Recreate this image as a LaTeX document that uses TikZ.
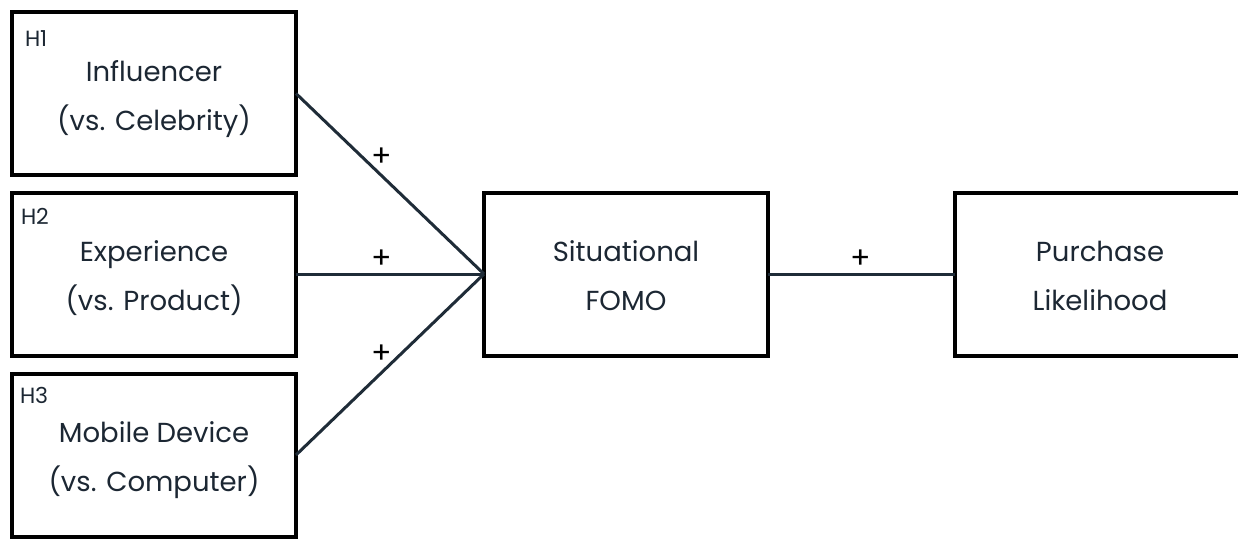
\documentclass[tikz,border=0pt]{standalone}
\usepackage{fontspec}
\setmainfont{Poppins}
\definecolor{ink}{HTML}{1C2733}
\definecolor{wire}{HTML}{1F2C38}
\begin{document}
\begin{tikzpicture}[x=1pt,y=-1pt,
  factor/.style={draw=black, line width=4pt, minimum width=284pt,
    minimum height=163pt, inner sep=0pt, outer sep=0pt, align=center,
    text=ink, font=\fontsize{27.5}{49}\selectfont,
    text height=73pt, text depth=0pt},
  hyp/.style={anchor=base west, inner sep=0pt, outer sep=0pt, text=ink,
    font=\fontsize{22}{22}\selectfont},
  link/.style={draw=wire, line width=3pt},
  sign/.style={text=black, inner sep=0pt, font=\fontsize{30}{30}\selectfont}]

  % canvas and clipping frame
  \useasboundingbox (0,0) rectangle (1238,538);
  \fill[white] (0,0) rectangle (1238,538);
  \clip (0,0) rectangle (1238,538);

  % factor boxes
  \node[factor] (infl)  at (154,93.5) {Influencer\\(vs. Celebrity)};
  \node[factor] (expr)  at (154,274)  {Experience\\(vs. Product)};
  \node[factor] (mobi)  at (154,455)  {Mobile Device\\(vs. Computer)};
  \node[factor] (fomo)  at (626,274)  {Situational\\FOMO};
  \node[factor, minimum width=290pt] (purch) at (1100,274) {Purchase\\Likelihood};

  % hypothesis tags
  \node[hyp] (h1) at ([shift={(13,34)}]infl.north west) {H1};
  \node[hyp] (h2) at ([shift={(9,32)}]expr.north west) {H2};
  \node[hyp] (h3) at ([shift={(8,29.5)}]mobi.north west) {H3};

  % paths
  \draw[link] (infl.east) -- node[sign, pos=0.457, yshift=19pt] (p1) {+} (fomo.west);
  \draw[link] (expr.east) -- node[sign, pos=0.457, yshift=15pt] (p2) {+} (fomo.west);
  \draw[link] (mobi.east) -- node[sign, pos=0.457, yshift=18pt] (p3) {+} (fomo.west);
  \draw[link] (fomo.east) -- node[sign, pos=0.497, yshift=15pt] (p4) {+} (purch.west);
\end{tikzpicture}
\end{document}
